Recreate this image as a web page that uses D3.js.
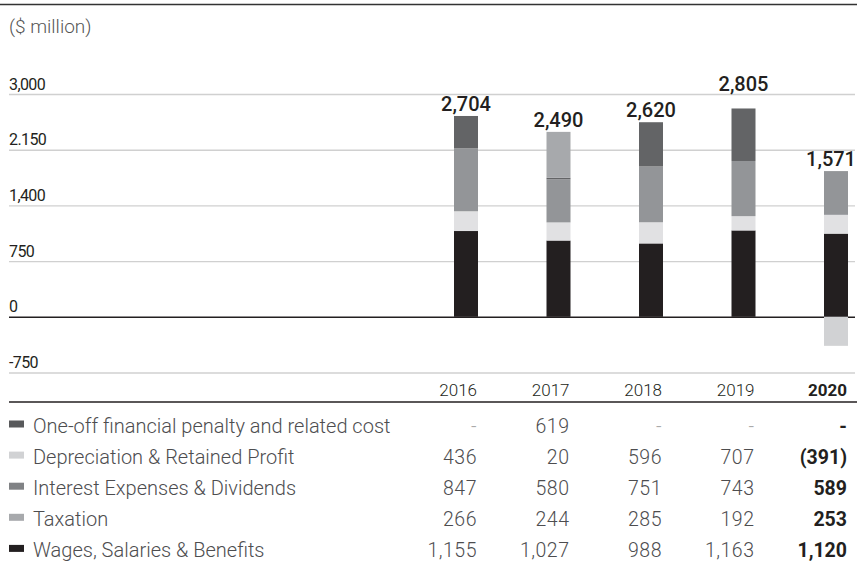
<!DOCTYPE html>
<html>
<head>
<meta charset="utf-8">
<script src="https://cdn.jsdelivr.net/npm/d3@7"></script>
<style>
  body { margin: 0; background: #fff; }
  svg { font-family: Roboto, "Noto Sans", sans-serif; display: block; }
</style>
</head>
<body>
<figure id="chart" style="margin:0"></figure>
<script>
// values ($ million)
const years = ['2016', '2017', '2018', '2019', '2020'];
const wages = [1155, 1027, 988, 1163, 1120];
const taxation = [266, 244, 285, 192, 253];
const interest = [847, 580, 751, 743, 589];
const depreciation = [436, 20, 596, 707, -391];
const penalty = [null, 619, null, null, null];

const tickValues = [-750, 0, 750, 1500, 2250, 3000];
const tickLabels = ['-750', '0', '750', '1,400', '2.150', '3,000'];

// stacking order bottom -> top
const series = [
  { key: 'wages', name: 'Wages, Salaries & Benefits', values: wages, bar: '#231f20', swatch: '#231f20' },
  { key: 'taxation', name: 'Taxation', values: taxation, bar: '#e1e1e3', swatch: '#a7a9ac' },
  { key: 'interest', name: 'Interest Expenses & Dividends', values: interest, bar: '#939598', swatch: '#808285' },
  { key: 'depreciation', name: 'Depreciation & Retained Profit', values: depreciation, bar: '#636466', barNeg: '#d1d2d4', swatch: '#d1d2d4' },
  { key: 'penalty', name: 'One-off financial penalty and related cost', values: penalty, bar: '#a7a9ac', swatch: '#58595b' }
];
const legendOrder = ['penalty', 'depreciation', 'interest', 'taxation', 'wages'];

const width = 857, height = 562;
const svg = d3.select('#chart').append('svg')
  .attr('width', width)
  .attr('height', height);

const table = years.map((yr, i) => {
  const row = { year: yr };
  series.forEach(s => row[s.key] = s.values[i] || 0);
  return row;
});

const x = d3.scalePoint().domain(years).range([466, 836]);
const y = d3.scaleLinear().domain([-750, 3000]).range([372.5, 94]);
const barW = 24;

// top rule
svg.append('line')
  .attr('x1', 0).attr('x2', width).attr('y1', 4.5).attr('y2', 4.5)
  .attr('stroke', '#333').attr('stroke-width', 1.5);

svg.append('text')
  .attr('x', 9).attr('y', 33)
  .style('font-size', '19px').style('font-weight', 300)
  .attr('fill', '#555')
  .text('($ million)');

// grid + tick labels
const axis = svg.append('g')
  .attr('transform', 'translate(9,0)')
  .call(d3.axisLeft(y).tickValues(tickValues)
    .tickFormat((d, i) => tickLabels[i]).tickSize(-(width - 11)))
  .call(g => g.select('.domain').remove());
axis.selectAll('.tick line')
  .attr('stroke', d => d === 0 ? '#231f20' : '#d0d0d0')
  .attr('stroke-width', 1.4);
axis.selectAll('.tick text')
  .attr('x', 0).attr('dy', -5)
  .attr('text-anchor', 'start')
  .attr('fill', '#231f20')
  .style('font-size', '16px')
  .style('letter-spacing', '-0.6px')
  .style('font-family', 'Roboto, sans-serif');

// bars
const stack = d3.stack()
  .keys(series.map(s => s.key))
  .offset(d3.stackOffsetDiverging);
const stacked = stack(table);

stacked.forEach((layer, li) => {
  const s = series[li];
  svg.append('g').selectAll('rect')
    .data(layer.filter(d => d[1] !== d[0]))
    .join('rect')
    .attr('x', d => x(d.data.year) - barW / 2)
    .attr('width', barW)
    .attr('y', d => y(Math.max(d[0], d[1])))
    .attr('height', d => Math.abs(y(d[0]) - y(d[1])))
    .attr('fill', d => (d[1] <= 0 && s.barNeg) ? s.barNeg : s.bar);
});

// total labels
const topGrid = y(d3.max(tickValues));
svg.append('g').selectAll('text')
  .data(table)
  .join('text')
  .attr('y', d => {
    const top = y(d3.sum(series, s => Math.max(0, d[s.key])));
    let base = top - 5;
    if (base > topGrid && base - 15 < topGrid) base = topGrid - 3;
    return base;
  })
  .attr('text-anchor', 'middle')
  .attr('fill', '#231f20')
  .style('font-size', '20px')
  .style('font-weight', 500)
  .text(d => d3.format(',')(d3.sum(series, s => d[s.key])))
  .attr('x', function(d) {
    const half = this.getComputedTextLength() / 2;
    return Math.min(x(d.year), width - 1 - half);
  });

// table header
const colRight = yr => x(yr) + 11;
const last = years[years.length - 1];
svg.append('g').selectAll('text')
  .data(years)
  .join('text')
  .attr('x', d => colRight(d))
  .attr('y', 396)
  .attr('text-anchor', 'end')
  .attr('fill', '#231f20')
  .style('font-size', '17px')
  .style('font-weight', d => d === last ? 700 : 300)
  .text(d => d);

svg.append('line')
  .attr('x1', 9).attr('x2', width).attr('y1', 402).attr('y2', 402)
  .attr('stroke', '#231f20').attr('stroke-width', 1.4);

// legend rows with values
const fmt = v => v == null ? '-' : v < 0 ? '(' + d3.format(',')(-v) + ')' : d3.format(',')(v);
const rowY = i => 433 + i * 31.1;

legendOrder.forEach((key, i) => {
  const s = series.find(d => d.key === key);
  const g = svg.append('g');
  g.append('rect')
    .attr('x', 9).attr('y', rowY(i) - 12.5)
    .attr('width', 15).attr('height', 7)
    .attr('fill', s.swatch);
  g.append('text')
    .attr('x', 33).attr('y', rowY(i))
    .attr('fill', '#4d4d4f')
    .style('font-size', '20px')
    .style('font-weight', 300)
    .text(s.name);
  g.selectAll('text.val')
    .data(years)
    .join('text')
    .attr('class', 'val')
    .attr('x', d => colRight(d))
    .attr('y', rowY(i))
    .attr('text-anchor', 'end')
    .attr('fill', (d, j) => d === last ? '#231f20' : (s.values[j] == null ? '#aaa' : '#4d4d4f'))
    .style('font-size', '19.5px')
    .style('letter-spacing', d => d === last ? '0px' : '0.5px')
    .style('font-weight', d => d === last ? 700 : 300)
    .text((d, j) => fmt(s.values[j]));
});
</script>
</body>
</html>
